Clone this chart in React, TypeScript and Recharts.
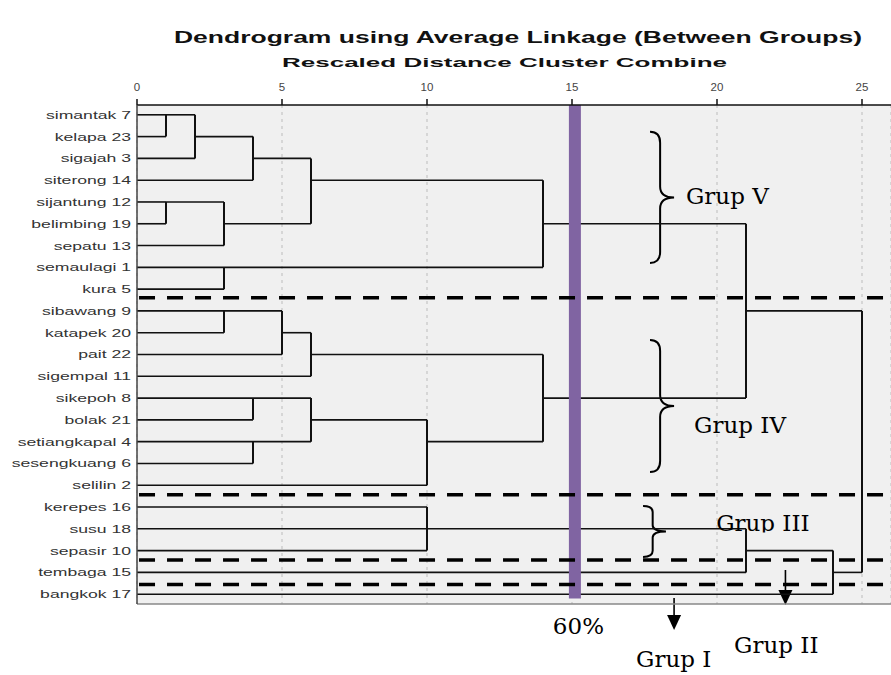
import React from 'react';
import {
  ComposedChart,
  XAxis,
  YAxis,
  CartesianGrid,
  ReferenceLine,
  ReferenceArea,
  ReferenceDot,
} from 'recharts';

// Leaves, top to bottom
const leafLabels = [
  'simantak 7', 'kelapa 23', 'sigajah 3', 'siterong 14', 'sijantung 12', 'belimbing 19',
  'sepatu 13', 'semaulagi 1', 'kura 5', 'sibawang 9', 'katapek 20', 'pait 22',
  'sigempal 11', 'sikepoh 8', 'bolak 21', 'setiangkapal 4', 'sesengkuang 6', 'selilin 2',
  'kerepes 16', 'susu 18', 'sepasir 10', 'tembaga 15', 'bangkok 17',
];

// Agglomeration schedule: ids < 23 are leaves (row index), id 23+i is the cluster made by merge i
const mergeLeft = [0, 23, 24, 4, 26, 25, 7, 28, 9, 31, 32, 13, 15, 34, 36, 33, 30, 18, 40, 41, 42, 39];
const mergeRight = [1, 2, 3, 5, 6, 27, 8, 29, 10, 11, 12, 14, 16, 35, 17, 37, 38, 19, 20, 21, 22, 43];
const mergeHeight = [1, 2, 4, 1, 3, 6, 3, 14, 3, 5, 6, 4, 4, 6, 10, 14, 21, 10, 10, 21, 24, 25];

const xTicks = [0, 5, 10, 15, 20, 25];
const cutValue = 15.1; // 60% cut line
const separatorRows = [8.4, 17.44, 20.43, 21.55];

// Annotations
const braceGroups = [
  { x1: 17.69, x2: 18.52, y1: 0.78, y2: 6.8 },
  { x1: 17.69, x2: 18.52, y1: 10.33, y2: 16.39 },
  { x1: 17.45, x2: 18.24, y1: 17.95, y2: 20.29 },
];
const groupTexts = [
  { text: 'Grup V', x: 18.93, y: 4.09, clip: false },
  { text: 'Grup IV', x: 19.21, y: 14.6, clip: false },
  { text: 'Grup III', x: 19.97, y: 19.12, clip: true },
  { text: '60%', x: 14.34, y: 23.83, clip: false },
  { text: 'Grup I', x: 17.21, y: 25.34, clip: false },
  { text: 'Grup II', x: 20.59, y: 24.7, clip: false },
];
const arrows = [
  { x: 18.52, y1: 22.18, y2: 23.64 },
  { x: 22.36, y1: 20.89, y2: 22.5 },
];

type Seg = { x1: number; y1: number; x2: number; y2: number; v: boolean };

function buildSegments(): Seg[] {
  const rows: number[] = leafLabels.map((_, i) => i);
  const heights: number[] = leafLabels.map(() => 0);
  const segs: Seg[] = [];
  mergeLeft.forEach((a, i) => {
    const b = mergeRight[i];
    const h = mergeHeight[i];
    [a, b].forEach((c) => {
      if (heights[c] !== h) segs.push({ x1: heights[c], y1: rows[c], x2: h, y2: rows[c], v: false });
    });
    segs.push({ x1: h, y1: rows[a], x2: h, y2: rows[b], v: true });
    rows.push(Math.floor((rows[a] + rows[b]) / 2));
    heights.push(h);
  });
  return segs;
}

const segments = buildSegments();
const rowTicks = leafLabels.map((_, i) => i);

const RowTick = (props: any) => {
  const { x, y, payload } = props;
  return (
    <text
      transform={`translate(${x},${y}) scale(1.6,1)`}
      textAnchor="end"
      dy="0.36em"
      fontSize={11}
      fontFamily="'Liberation Sans', Arial, sans-serif"
      fill="#333"
    >
      {leafLabels[payload.value]}
    </text>
  );
};

const braceShape = (p: any) => {
  const { x, y, width: w, height: h } = p;
  const sx = x + w * 0.42;
  const my = y + h / 2;
  const r = Math.min(11, h * 0.12);
  const d = `M${x},${y} Q${sx},${y} ${sx},${y + r} L${sx},${my - r} Q${sx},${my} ${x + w},${my} Q${sx},${my} ${sx},${my + r} L${sx},${y + h - r} Q${sx},${y + h} ${x},${y + h}`;
  return <path d={d} fill="none" stroke="#000" strokeWidth={2} />;
};

const arrowShape = (p: any) => {
  const { x, y, width, height } = p;
  const cx = x + width / 2;
  const tip = y + height;
  const head = 15;
  return (
    <g>
      <line x1={cx} y1={y} x2={cx} y2={tip - head + 1} stroke="#000" strokeWidth={1.6} />
      <polygon points={`${cx - 7},${tip - head} ${cx + 7},${tip - head} ${cx},${tip}`} fill="#000" />
    </g>
  );
};

const makeTextShape = (t: { text: string; clip: boolean }, idx: number) => (p: any) => {
  const id = `annclip${idx}`;
  return (
    <g>
      {t.clip && (
        <defs>
          <clipPath id={id}>
            <rect x={p.cx - 10} y={p.cy - 40} width={200} height={41} />
          </clipPath>
        </defs>
      )}
      <text
        x={p.cx}
        y={p.cy}
        fontSize={23}
        fontFamily="'DejaVu Serif', serif"
        fill="#000"
        clipPath={t.clip ? `url(#${id})` : undefined}
      >
        {t.text}
      </text>
    </g>
  );
};

export default function App() {
  return (
    <div style={{ position: 'absolute', left: 0, top: 0, width: 891, height: 675, background: '#fff' }}>
      <ComposedChart
        width={891}
        height={675}
        data={[]}
        margin={{ top: 75, right: 0, bottom: 71, left: 0 }}
      >
        <CartesianGrid
          horizontal={false}
          fill="#f0f0f0"
          stroke="#cdcdcd"
          strokeWidth={1.5}
          strokeDasharray="3 4"
        />
        <XAxis
          type="number"
          dataKey="x"
          orientation="top"
          domain={[0, 26]}
          ticks={xTicks}
          allowDataOverflow
          height={30}
          tickSize={6}
          tickMargin={8}
          axisLine={{ stroke: '#111', strokeWidth: 1.5 }}
          tickLine={{ stroke: '#111', strokeWidth: 1.5 }}
          tick={{ fontSize: 11.5, fill: '#444', fontFamily: "'Liberation Sans', Arial, sans-serif" }}
        />
        <YAxis
          type="number"
          dataKey="row"
          domain={[-0.45, 22.45]}
          reversed
          ticks={rowTicks}
          interval={0}
          allowDataOverflow
          width={137}
          tickSize={0}
          tickMargin={6}
          tick={<RowTick />}
          axisLine={{ stroke: '#444', strokeWidth: 1.5 }}
        />
        <ReferenceLine
          segment={[{ x: 0, y: 22.45 }, { x: 26, y: 22.45 }]}
          stroke="#888"
          strokeWidth={1.5}
          ifOverflow="visible"
        />
        {segments.map((s, i) => (
          <ReferenceLine
            key={`seg${i}`}
            segment={[{ x: s.x1, y: s.y1 }, { x: s.x2, y: s.y2 }]}
            stroke="#111"
            strokeWidth={s.v ? 2 : 1.6}
            ifOverflow="visible"
          />
        ))}
        <ReferenceLine
          segment={[{ x: cutValue, y: -0.45 }, { x: cutValue, y: 22.2 }]}
          stroke="#8064a2"
          strokeWidth={12}
          ifOverflow="visible"
        />
        {separatorRows.map((r, i) => (
          <ReferenceLine
            key={`sep${i}`}
            segment={[{ x: 0.07, y: r }, { x: 26, y: r }]}
            stroke="#000"
            strokeWidth={3.5}
            strokeDasharray="16 12"
            ifOverflow="visible"
          />
        ))}
        {braceGroups.map((b, i) => (
          <ReferenceArea
            key={`brace${i}`}
            x1={b.x1}
            x2={b.x2}
            y1={b.y1}
            y2={b.y2}
            ifOverflow="visible"
            shape={braceShape}
          />
        ))}
        {arrows.map((a, i) => (
          <ReferenceArea
            key={`arrow${i}`}
            x1={a.x - 0.3}
            x2={a.x + 0.3}
            y1={a.y1}
            y2={a.y2}
            ifOverflow="visible"
            shape={arrowShape}
          />
        ))}
        {groupTexts.map((t, i) => (
          <ReferenceDot
            key={`txt${i}`}
            x={t.x}
            y={t.y}
            r={0}
            ifOverflow="visible"
            shape={makeTextShape(t, i)}
          />
        ))}
      </ComposedChart>
      <svg
        width={891}
        height={80}
        style={{ position: 'absolute', left: 0, top: 0, pointerEvents: 'none' }}
      >
        <text
          x={174}
          y={43}
          fontSize={16}
          fontWeight="bold"
          fontFamily="'Liberation Sans', Arial, sans-serif"
          fill="#111"
          textLength={688}
          lengthAdjust="spacingAndGlyphs"
        >
          Dendrogram using Average Linkage (Between Groups)
        </text>
        <text
          x={282}
          y={67}
          fontSize={13}
          fontWeight="bold"
          fontFamily="'Liberation Sans', Arial, sans-serif"
          fill="#111"
          textLength={445}
          lengthAdjust="spacingAndGlyphs"
        >
          Rescaled Distance Cluster Combine
        </text>
      </svg>
    </div>
  );
}
